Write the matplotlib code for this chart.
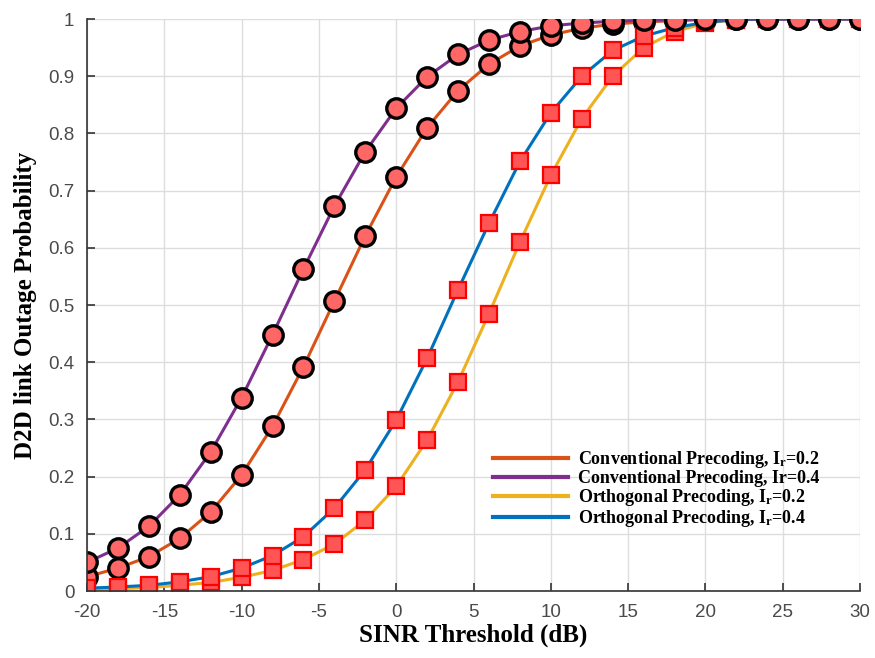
import numpy as np
import matplotlib.pyplot as plt
from matplotlib.lines import Line2D

# SINR threshold sweep (dB)
sinr = np.arange(-20, 31, 2)

# outage probability, conventional precoding
conv_ir02 = [0.025, 0.040, 0.060, 0.092, 0.138, 0.203, 0.288, 0.392, 0.507,
             0.621, 0.724, 0.810, 0.875, 0.921, 0.953, 0.972, 0.984, 0.991,
             0.995, 0.997, 0.999, 1.0, 1.0, 1.0, 1.0, 1.0]
conv_ir04 = [0.050, 0.075, 0.113, 0.168, 0.243, 0.338, 0.448, 0.563, 0.673,
             0.768, 0.844, 0.899, 0.938, 0.963, 0.978, 0.988, 0.993, 0.996,
             0.998, 0.999, 1.0, 1.0, 1.0, 1.0, 1.0, 1.0]

# outage probability, orthogonal precoding
orth_ir02 = [0.002, 0.004, 0.006, 0.010, 0.015, 0.024, 0.036, 0.055, 0.082,
             0.124, 0.183, 0.264, 0.366, 0.485, 0.610, 0.727, 0.826, 0.900,
             0.950, 0.978, 0.993, 0.999, 1.0, 1.0, 1.0, 1.0]
orth_ir04 = [0.005, 0.007, 0.010, 0.016, 0.025, 0.040, 0.062, 0.095, 0.145,
             0.212, 0.299, 0.407, 0.527, 0.643, 0.751, 0.836, 0.900, 0.945,
             0.970, 0.985, 0.994, 0.999, 1.0, 1.0, 1.0, 1.0]

labels = ["Conventional Precoding, I$_\\mathregular{r}$=0.2",
          "Conventional Precoding, Ir=0.4",
          "Orthogonal Precoding, I$_\\mathregular{r}$=0.2",
          "Orthogonal Precoding, I$_\\mathregular{r}$=0.4"]
colors = ["#D95319", "#7E2F8E", "#EDB120", "#0072BD"]

plt.rcParams["axes.unicode_minus"] = False
plt.rcParams["mathtext.fontset"] = "custom"
plt.rcParams["mathtext.rm"] = "Liberation Serif:bold"
plt.rcParams["mathtext.it"] = "Liberation Serif:bold"

fig = plt.figure(figsize=(8.75, 6.58), dpi=100)
ax = fig.add_axes([0.0994, 0.1018, 0.8836, 0.8693])

circ = dict(marker="o", markersize=14, markerfacecolor="#FF6666",
            markeredgecolor="black", markeredgewidth=2.4)
sq = dict(marker="s", markersize=12, markerfacecolor="#FF5555",
          markeredgecolor="#FF0000", markeredgewidth=1.6)

ax.plot(sinr, conv_ir02, color=colors[0], lw=2.2, **circ)
ax.plot(sinr, orth_ir02, color=colors[2], lw=2.2, **sq)
ax.plot(sinr, orth_ir04, color=colors[3], lw=2.2, **sq)
ax.plot(sinr, conv_ir04, color=colors[1], lw=2.2, **circ)

ax.set_xlim(-20, 30)
ax.set_ylim(0, 1)
ax.set_xticks(np.arange(-20, 31, 5))
ax.set_yticks(np.arange(0, 1.01, 0.1))
ax.set_yticklabels(["0", "0.1", "0.2", "0.3", "0.4", "0.5", "0.6", "0.7",
                    "0.8", "0.9", "1"])
ax.grid(True, color="#dddddd", lw=1)
ax.set_axisbelow(True)
for side in ["top", "right"]:
    ax.spines[side].set_visible(False)
for side in ["left", "bottom"]:
    ax.spines[side].set_color("#333333")
    ax.spines[side].set_linewidth(1.2)
ax.tick_params(direction="in", length=6, width=1.2, labelsize=13.5,
               colors="#333333", pad=9)
for t in ax.get_xticklabels() + ax.get_yticklabels():
    t.set_fontfamily("Liberation Sans")
    t.set_color("#4a4a4a")

ax.set_xlabel("SINR Threshold (dB)", fontsize=18, fontweight="bold",
              family="Liberation Serif", labelpad=2)
ax.set_ylabel("D2D link Outage Probability", fontsize=18, fontweight="bold",
              family="Liberation Serif", labelpad=8)

handles = [Line2D([], [], color=c, lw=3) for c in colors]
ax.legend(handles, labels, loc="center", bbox_to_anchor=(0.737, 0.178),
          frameon=False, handlelength=4.15, handletextpad=0.55,
          labelspacing=0.0, borderpad=0,
          prop=dict(family="Liberation Serif", weight="bold", size=13))

fig.savefig("out.png", dpi=100)
